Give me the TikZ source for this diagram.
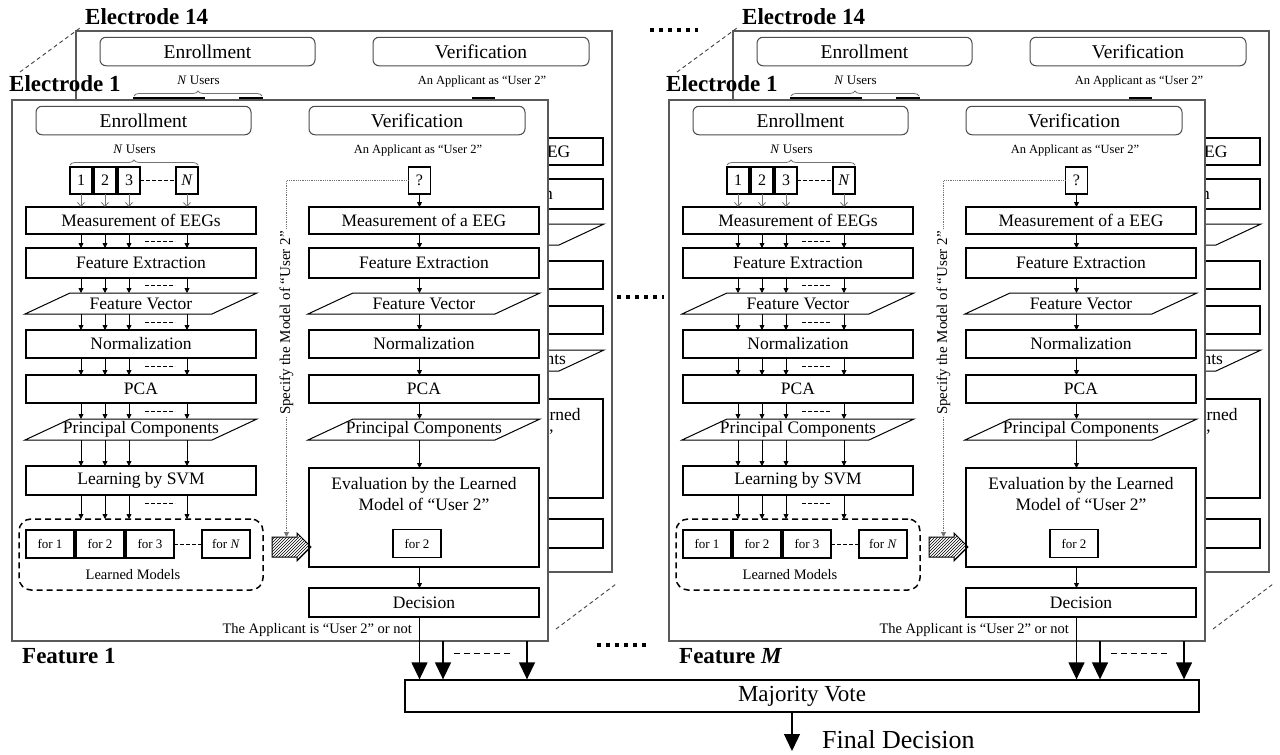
\documentclass[tikz,border=0pt]{standalone}
\usepackage{fontspec}
\setmainfont{Liberation Serif}
\usetikzlibrary{positioning,arrows.meta,shapes.arrows,patterns,decorations.pathreplacing,calc}
\tikzset{
  panelbox/.style={draw=black!65,line width=1.2pt,fill=white,minimum width=536pt,minimum height=541pt,inner sep=0pt},
  headbox/.style={draw=black!70,line width=1pt,rounded corners=6pt,minimum width=215pt,minimum height=28.5pt,inner sep=0pt,font=\fontsize{19.5}{20}\selectfont},
  stepbox/.style={draw,line width=1.5pt,minimum width=230pt,minimum height=28pt,inner sep=0pt,outer sep=0pt,font=\fontsize{17.5}{21}\selectfont},
  databox/.style={minimum width=232pt,minimum height=21pt,inner sep=0pt,outer sep=0pt,font=\fontsize{17.5}{21}\selectfont,
    append after command={\pgfextra{\draw[line width=1pt] (\tikzlastnode.south west) -- ([xshift=-45pt]\tikzlastnode.south east)
      -- (\tikzlastnode.north east) -- ([xshift=45pt]\tikzlastnode.north west) -- cycle;}}},
  usrbox/.style={draw,line width=1.5pt,minimum width=22pt,minimum height=27pt,inner sep=0pt,outer sep=0pt,font=\fontsize{16}{16}\selectfont},
  forbox/.style={draw,line width=1.2pt,minimum width=48pt,minimum height=28pt,inner sep=0pt,outer sep=0pt,font=\fontsize{13}{13}\selectfont},
  modelbox/.style={draw,dash pattern=on 6pt off 4pt,line width=1.5pt,rounded corners=12pt,minimum width=244pt,minimum height=71pt,outer sep=0pt},
  votebox/.style={draw,line width=1.3pt,minimum width=794pt,minimum height=32pt,inner sep=0pt,font=\fontsize{23}{23}\selectfont},
  smalltxt/.style={inner sep=0pt,font=\fontsize{13}{13}\selectfont},
  eleclbl/.style={inner sep=0pt,font=\bfseries\fontsize{23}{23}\selectfont},
  brc/.style={decorate,decoration={brace,amplitude=5pt},draw=black!55,line width=0.8pt},
  arr/.style={-{Triangle[length=5pt,width=5pt]},line width=0.8pt},
  usrarr/.style={-{Straight Barb[length=4pt,width=7pt]},draw=black!55,line width=0.8pt},
  dotarr/.style={densely dotted,draw=black!55,line width=0.8pt,-{Triangle[length=5pt,width=5pt]}},
  bigarr/.style={-{Triangle[length=17pt,width=16pt]},line width=1.3pt},
  dashline/.style={dash pattern=on 3.5pt off 2.5pt,line width=1pt},
  passarrow/.style={single arrow,draw,line width=1pt,pattern=north east lines,minimum height=39pt,single arrow head extend=4pt,inner sep=0pt,outer sep=0pt},
  corner/.style={dash pattern=on 4pt off 3pt,line width=0.9pt,draw=black!75},
  etc/.style={line width=4pt,dash pattern=on 4pt off 5pt},
}

\newcommand{\featurepanel}[1]{%
  \node[panelbox] (#1frm) at (280,370.5) {};
  \node[headbox] (#1enr) at (143.5,120.5) {Enrollment};
  \node[headbox,minimum width=216pt] (#1ver) at (417,120.5) {Verification};
  \node[smalltxt] (#1nu) at (134.5,149) {\textit{N} Users};
  \node[smalltxt,font=\fontsize{12.5}{13}\selectfont] (#1app) at (418,150) {An Applicant as “User 2”};
  \node[usrbox] (#1u1) at (81,180.5) {1};
  \node[usrbox,right=2pt of #1u1] (#1u2) {2};
  \node[usrbox,right=2pt of #1u2] (#1u3) {3};
  \node[usrbox] (#1uN) at (187,180.5) {\textit{N}};
  \node[usrbox] (#1q) at (419.5,180.5) {?};
  \draw[dashline] (#1u3) -- (#1uN);
  \draw[brc] ([yshift=2pt]#1u1.north west) -- ([yshift=2pt]#1uN.north east);
  \node[stepbox,minimum height=27pt] (#1meas) at (141,220.5) {Measurement of EEGs};
  \node[stepbox,minimum height=30pt,below=14pt of #1meas] (#1fext) {Feature Extraction};
  \node[databox,below=15pt of #1fext] (#1fvec) {Feature Vector};
  \node[stepbox,below=16pt of #1fvec] (#1norm) {Normalization};
  \node[stepbox,below=17pt of #1norm] (#1pca) {PCA};
  \node[databox,below=16pt of #1pca] (#1pcs) {Principal Components};
  \node[stepbox,minimum height=29pt,below=26pt of #1pcs] (#1svm) {Learning by SVM};
  \node[modelbox,below=24pt of #1svm] (#1mdl) {};
  \node[forbox] (#1f1) at (50,544) {for 1};
  \node[forbox,right=2pt of #1f1] (#1f2) {for 2};
  \node[forbox,right=2pt of #1f2] (#1f3) {for 3};
  \node[forbox] (#1fN) at (226,544) {for \textit{N}};
  \draw[dashline] (#1f3) -- (#1fN);
  \node[smalltxt,font=\fontsize{14.5}{15}\selectfont] (#1lm) at (133,575) {Learned Models};
  \foreach \u in {u1,u2,u3,uN}
    \draw[usrarr] (#1\u.south) -- (#1meas.north -| #1\u);
  \foreach \a/\b in {meas/fext,fext/fvec,fvec/norm,norm/pca,pca/pcs,pcs/svm,svm/mdl}
    \foreach \u in {u1,u2,u3,uN}
      \draw[arr] (#1\a.south -| #1\u) -- (#1\b.north -| #1\u);
  \coordinate (#1dx) at (145,0);
  \foreach \a/\b in {meas/fext,fext/fvec,fvec/norm,norm/pca,pca/pcs}
    \draw[dashline] ($(#1\a.south -| #1dx)!.5!(#1\b.north -| #1dx)$) -- ++(30,0);
  \draw[dashline] ($(#1svm.south -| #1dx)!.35!(#1mdl.north -| #1dx)$) -- ++(30,0);
  \node[stepbox,minimum height=27pt,right=53pt of #1meas] (#1vmeas) {Measurement of a EEG};
  \node[stepbox,minimum height=30pt] (#1vfext) at (#1vmeas |- #1fext) {Feature Extraction};
  \node[databox] (#1vfvec) at (#1vmeas |- #1fvec) {Feature Vector};
  \node[stepbox] (#1vnorm) at (#1vmeas |- #1norm) {Normalization};
  \node[stepbox] (#1vpca) at (#1vmeas |- #1pca) {PCA};
  \node[databox] (#1vpcs) at (#1vmeas |- #1pcs) {Principal Components};
  \node[stepbox,minimum height=99pt] (#1eval) at (424,517.5) {};
  \node[align=center,inner sep=0pt,font=\fontsize{17.5}{21}\selectfont,below=9pt of #1eval.north] (#1evtxt) {Evaluation by the Learned\\Model of “User 2”};
  \node[forbox] (#1fv) at (417,543.5) {for 2};
  \node[stepbox,minimum height=29pt] (#1dec) at (424,602.5) {Decision};
  \foreach \a/\b in {q/vmeas,vmeas/vfext,vfext/vfvec,vfvec/vnorm,vnorm/vpca,vpca/vpcs,vpcs/eval,eval/dec}
    \draw[arr] (#1\a.south -| #1q) -- (#1\b.north -| #1q);
  \node[passarrow] (#1pass) at (286.5,547) {\rule{0pt}{19pt}};
  \draw[dotarr] (#1q.west) -| node[pos=0.7,rotate=90,fill=white,inner sep=1pt,font=\fontsize{15}{15}\selectfont] {Specify the Model of “User 2”} (#1pass.north);
  \node[smalltxt,font=\fontsize{14.5}{15}\selectfont,anchor=east] (#1res) at (412,630) {The Applicant is “User 2” or not};
  \coordinate (#1o2) at (443,641);
  \coordinate (#1o3) at (527,641);
}

\newcommand{\featureblock}[2]{%
  \begin{scope}[shift={(64,-69)}]
    \featurepanel{#1B}
  \end{scope}
  \featurepanel{#1}
  \node[eleclbl,anchor=west] (#1e14) at (85,17) {Electrode 14};
  \node[eleclbl,anchor=west] (#1e1) at (9,84) {Electrode 1};
  \draw[corner] (20,72) -- (80,28);
  \draw[corner] (556,629) -- (616,584);
  \node[eleclbl,anchor=west] (#1feat) at (22,656) {#2};
}

\begin{document}
\begin{tikzpicture}[x=1pt,y=-1pt]
  \useasboundingbox (0,0) rectangle (1280,755);
  \featureblock{L}{Feature 1}
  \begin{scope}[shift={(657,0)}]
    \featureblock{R}{Feature \textit{M}}
  \end{scope}

  \node[votebox] (vote) at (802,696) {Majority Vote};
  \foreach \p in {L,R} {
    \draw[bigarr] (\p dec.south -| \p q) -- (vote.north -| \p q);
    \draw[bigarr] (\p o2) -- (vote.north -| \p o2);
    \draw[bigarr] (\p o3) -- (vote.north -| \p o3);
    \draw[dashline,dash pattern=on 6pt off 4pt] ($(\p o2)+(11,12)$) -- ($(\p o3)+(-15,12)$);
  }
  \coordinate (fin) at (792,751);
  \draw[bigarr] (vote.south -| fin) -- (fin);
  \node[anchor=west,inner sep=0pt,font=\fontsize{26}{26}\selectfont] (findec) at (822,740) {Final Decision};

  \draw[etc] (650,30) -- (698,30);
  \draw[etc] (617,297) -- (664,297);
  \draw[etc] (597,645) -- (650,645);
\end{tikzpicture}
\end{document}
